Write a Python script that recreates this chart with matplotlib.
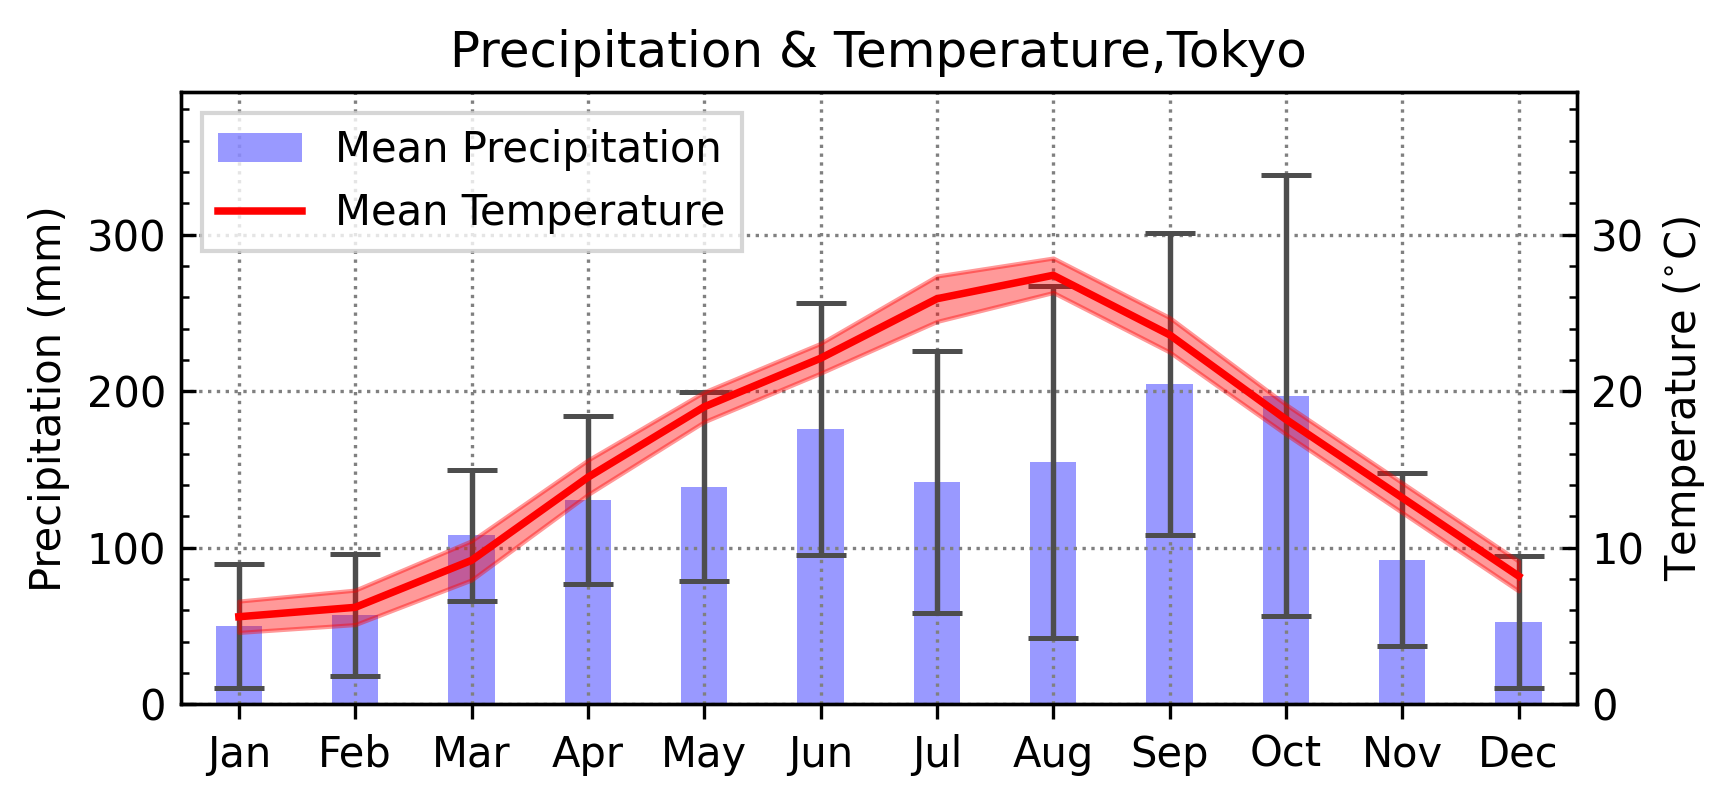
import matplotlib
matplotlib.use("Agg")
import matplotlib.pyplot as plt
from matplotlib.ticker import MultipleLocator
import numpy as np

months = ["Jan", "Feb", "Mar", "Apr", "May", "Jun", "Jul", "Aug", "Sep", "Oct", "Nov", "Dec"]
precip_mean = [50.0, 57.0, 108.1, 130.5, 139.0, 176.0, 142.0, 154.8, 204.6, 197.0, 92.4, 52.8]
precip_std = [39.5, 39.0, 41.8, 53.6, 60.5, 80.3, 83.9, 112.3, 96.4, 140.7, 55.2, 42.1]
temp_mean = [5.6, 6.2, 9.2, 14.5, 19.0, 22.1, 25.9, 27.4, 23.6, 18.2, 13.2, 8.2]
temp_std = [1.0, 1.1, 1.25, 1.1, 0.95, 0.95, 1.45, 1.1, 1.1, 0.95, 0.95, 0.95]

plt.rcParams['font.family'] = ['DejaVu Sans']

fig = plt.figure(figsize=(5.78, 2.68), dpi=300)
ax1 = fig.add_axes([0.1042, 0.1238, 0.9093 - 0.1042, 0.8856 - 0.1238])

x = np.arange(len(months))
p = np.array(precip_mean)
ps = np.array(precip_std)
t = np.array(temp_mean)
ts = np.array(temp_std)

bars = ax1.bar(x, p, width=0.4, color='blue', alpha=0.4, label='Mean Precipitation')
ax1.errorbar(x, p, yerr=ps, fmt='none', ecolor='0.3', elinewidth=1.3,
             capsize=6, capthick=1.2)
ax1.set_xlim(-0.5, 11.5)
ax1.set_ylim(0, 391)
ax1.set_xticks(x)
ax1.set_xticklabels(months)
ax1.yaxis.set_major_locator(MultipleLocator(100))
ax1.yaxis.set_minor_locator(MultipleLocator(20))
ax1.tick_params(axis='y', which='both', direction='in')
ax1.tick_params(axis='both', which='major', labelsize=10)
ax1.set_ylabel('Precipitation (mm)', fontsize=10)
ax1.grid(True, linestyle=':', color='gray', linewidth=0.8)
ax1.set_title('Precipitation & Temperature,Tokyo', fontsize=12)

ax2 = ax1.twinx()
line, = ax2.plot(x, t, color='red', linewidth=1.8, label='Mean Temperature')
ax2.fill_between(x, t - ts, t + ts, color='red', alpha=0.4)
ax2.set_ylim(0, 39.1)
ax2.yaxis.set_major_locator(MultipleLocator(10))
ax2.yaxis.set_minor_locator(MultipleLocator(2))
ax2.tick_params(axis='y', which='both', direction='in')
ax2.tick_params(axis='y', which='major', labelsize=10)
ax2.set_ylabel(r'Temperature ($^{\circ}$C)', fontsize=10)

ax2.legend([bars, line], ['Mean Precipitation', 'Mean Temperature'],
           loc='upper left', fancybox=False, edgecolor='0.8', fontsize=10)

fig.savefig('out.png', dpi=300)
